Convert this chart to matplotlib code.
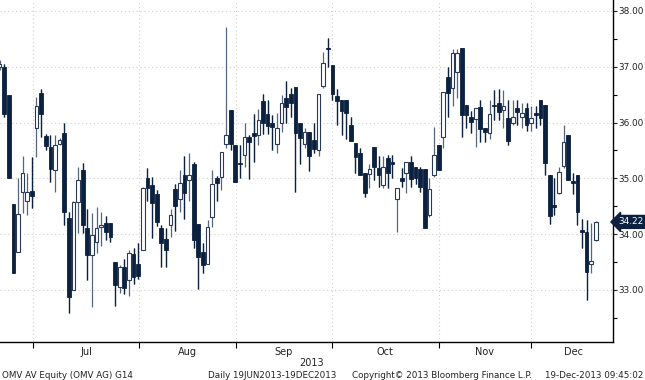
import matplotlib
matplotlib.use("Agg")
import matplotlib.pyplot as plt
import matplotlib.transforms as mtransforms
import numpy as np

# ---- data (OHLC, daily, 19 Jun 2013 - 19 Dec 2013) ----
opens = [37.00, 37.00, 36.50, 34.55, 33.68, 34.76, 34.60, 34.77, 35.90, 36.53,
         35.76, 35.56, 35.15, 35.62, 35.81, 34.29, 33.00, 34.58, 35.15, 34.11,
         33.63, 33.86, 34.13, 34.20, 34.20, 33.50, 33.05, 33.41, 33.18, 33.64,
         33.47, 33.72, 35.00, 34.88, 34.72, 34.11, 33.92, 34.16, 34.81, 34.63,
         35.06, 34.97, 35.26, 34.18, 33.68, 33.47, 34.31, 35.00, 35.02, 35.62,
         36.23, 35.60, 35.27, 35.42, 35.74, 35.81, 35.78, 36.39, 36.15, 36.00,
         35.62, 36.00, 36.44, 36.51, 36.64, 35.99, 35.62, 35.83, 35.69, 35.51,
         36.66, 37.33, 37.03, 36.48, 36.40, 36.40, 35.96, 35.63, 35.46, 35.10,
         35.08, 35.56, 35.19, 34.88, 35.37, 35.30, 34.63, 35.00, 35.10, 35.29,
         35.20, 35.17, 35.17, 34.34, 35.06, 35.60, 35.74, 36.82, 36.62, 36.90,
         37.34, 36.32, 36.10, 36.07, 36.28, 35.90, 35.81, 36.31, 36.35, 36.23,
         36.08, 35.99, 36.26, 36.10, 36.26, 36.00, 36.16, 36.40, 36.31, 35.06,
         34.51, 34.74, 35.22, 35.78, 34.95, 35.06, 34.06, 34.04, 33.47, 33.90]
highs = [37.12, 37.05, 36.50, 34.55, 35.00, 35.40, 35.10, 35.38, 36.45, 36.60,
         35.80, 35.78, 35.78, 35.72, 36.00, 34.40, 34.60, 35.20, 35.27, 34.45,
         34.38, 34.49, 34.40, 34.33, 34.20, 33.50, 33.45, 33.55, 33.72, 33.76,
         33.85, 34.85, 35.18, 35.02, 34.80, 34.16, 34.11, 34.45, 34.90, 35.15,
         35.40, 35.45, 35.30, 34.18, 33.85, 34.25, 35.15, 35.05, 35.47, 37.71,
         36.23, 35.60, 35.60, 36.00, 35.78, 36.15, 36.24, 36.52, 36.40, 36.14,
         36.17, 36.50, 36.75, 36.62, 36.64, 35.99, 35.90, 35.83, 36.00, 36.51,
         37.27, 37.52, 37.03, 36.60, 36.40, 36.40, 36.10, 35.63, 35.55, 35.10,
         35.25, 35.56, 35.40, 35.40, 35.42, 35.42, 34.83, 35.18, 35.29, 35.40,
         35.20, 35.20, 35.17, 35.00, 35.92, 35.60, 36.55, 37.00, 37.32, 37.32,
         37.34, 36.32, 36.20, 36.26, 36.40, 35.90, 36.40, 36.58, 36.60, 36.58,
         36.40, 36.40, 36.40, 36.35, 36.35, 36.30, 36.30, 36.40, 36.31, 35.06,
         35.00, 35.20, 35.96, 35.78, 35.10, 35.06, 34.27, 34.25, 34.20, 34.24]
lows = [36.95, 36.10, 35.00, 33.30, 33.68, 34.38, 34.35, 34.47, 35.38, 35.74,
        35.50, 34.94, 34.76, 35.60, 34.17, 32.59, 33.00, 34.02, 34.02, 33.18,
        32.70, 33.66, 33.79, 33.90, 33.86, 32.71, 32.95, 32.92, 32.90, 33.10,
        33.20, 33.72, 34.60, 33.93, 34.15, 33.41, 33.41, 33.95, 34.05, 34.40,
        34.27, 34.60, 33.75, 33.02, 33.30, 33.47, 34.12, 34.60, 34.80, 35.55,
        35.50, 34.94, 35.00, 35.20, 34.99, 35.30, 35.60, 35.80, 35.80, 35.51,
        35.46, 35.83, 35.99, 36.10, 34.76, 35.26, 35.55, 35.13, 35.45, 35.40,
        36.62, 37.00, 36.40, 35.96, 35.78, 35.70, 35.67, 35.10, 35.06, 34.67,
        34.83, 34.98, 34.85, 34.82, 34.82, 35.00, 34.04, 34.85, 34.73, 34.85,
        34.90, 34.75, 34.11, 34.30, 35.03, 35.15, 35.55, 36.10, 36.30, 36.44,
        35.74, 35.90, 35.82, 35.56, 35.65, 35.65, 35.70, 36.05, 36.05, 35.90,
        35.60, 35.95, 35.95, 35.90, 35.85, 35.85, 35.90, 35.95, 35.06, 34.18,
        34.35, 34.72, 35.18, 34.97, 34.72, 34.17, 33.75, 32.82, 33.30, 33.88]
closes = [37.05, 36.15, 35.00, 33.30, 34.36, 35.10, 34.76, 34.68, 36.30, 36.15,
          35.58, 35.17, 35.60, 35.69, 34.40, 32.87, 34.58, 34.97, 34.16, 33.63,
          33.99, 34.11, 34.16, 34.04, 33.95, 33.09, 33.41, 33.03, 33.66, 33.23,
          33.25, 34.83, 34.83, 34.56, 34.22, 33.84, 33.72, 34.34, 34.50, 34.92,
          34.74, 35.06, 33.90, 33.59, 33.45, 34.13, 34.90, 34.92, 35.47, 35.78,
          35.62, 34.94, 35.25, 35.74, 35.65, 35.76, 36.05, 35.99, 35.94, 35.92,
          35.90, 36.35, 36.28, 36.35, 35.81, 35.72, 35.83, 35.40, 35.53, 36.51,
          37.07, 37.31, 36.51, 36.39, 36.20, 36.18, 35.67, 35.38, 35.06, 34.74,
          35.17, 35.20, 35.06, 35.20, 35.10, 35.26, 34.83, 34.95, 35.29, 34.99,
          35.00, 34.85, 34.11, 34.81, 35.42, 35.15, 36.55, 36.53, 37.25, 37.25,
          36.14, 36.14, 36.01, 36.26, 35.89, 35.83, 36.16, 36.29, 36.19, 36.30,
          35.67, 36.10, 36.19, 36.17, 35.96, 36.08, 36.14, 36.08, 35.28, 34.33,
          34.49, 35.12, 35.65, 34.97, 34.92, 34.40, 34.04, 33.32, 33.52, 34.22]

month_labels = ["Jul", "Aug", "Sep", "Oct", "Nov", "Dec"]
year_label = "2013"
y_ticks = [33.0, 34.0, 35.0, 36.0, 37.0, 38.0]
last_price = closes[-1]

# ---- layout ----
W, H = 645, 380
fig = plt.figure(figsize=(W / 100, H / 100), dpi=100)
ax = fig.add_axes([0.0, 1 - 342 / H, 613 / W, 342 / H])

dark = "#0c2140"
wick_c = "#56667c"
x = np.arange(len(opens))
o = np.array(opens); c = np.array(closes); h = np.array(highs); l = np.array(lows)
up = c >= o

# month separators (in candle-index units)
month_edges = [7.25, 30.2, 51.15, 71.9, 95.0, 114.9]
xmax = 132.7

# grid
grid_c = "#d0d0d0"
for yv in y_ticks:
    ax.axhline(yv, color=grid_c, lw=0.8, ls=(0, (1, 2.5)), zorder=0)
for xv in month_edges:
    ax.axvline(xv, color=grid_c, lw=0.8, ls=(0, (1, 2.5)), zorder=0)

# wicks
ax.vlines(x, l, h, color=wick_c, lw=0.9, zorder=1)
ax.vlines(x[~up], l[~up], h[~up], color=dark, lw=0.9, zorder=1)

# bodies
bw = 0.8
bottoms = np.minimum(o, c)
heights = np.maximum(np.abs(c - o), 0.03)
ax.bar(x[~up], heights[~up], bottom=bottoms[~up], width=bw, color=dark,
       edgecolor=dark, lw=0.6, zorder=2)
ax.bar(x[up], heights[up], bottom=bottoms[up], width=bw, color="white",
       edgecolor="#2a3a55", lw=0.8, zorder=2)

ax.set_xlim(0.108, xmax)
ax.set_ylim(32.068, 38.197)

# spines
for s in ["left", "top"]:
    ax.spines[s].set_visible(False)
ax.spines["right"].set_linewidth(1.0)
ax.spines["bottom"].set_linewidth(1.0)

# y axis on the right
ax.yaxis.tick_right()
ax.set_yticks(y_ticks)
ax.set_yticklabels([f"{v:.2f}" for v in y_ticks])
ax.set_yticks(np.arange(32.5, 38.2, 1.0), minor=True)
ax.tick_params(axis="y", which="major", direction="out", length=3, width=0.8,
               pad=1.0, labelsize=6.4, colors="#222222")
ax.tick_params(axis="y", which="minor", direction="out", length=3, width=0.8)

# x axis month ticks
ax.set_xticks(month_edges)
ax.set_xticklabels([])
ax.tick_params(axis="x", which="major", direction="out", length=4, width=0.8)
centers = [(month_edges[i] + month_edges[i + 1]) / 2 for i in range(len(month_edges) - 1)]
centers.append(month_edges[-1] + 9.2)
tr = mtransforms.blended_transform_factory(ax.transData, fig.transFigure)
for cx, lab in zip(centers, month_labels):
    fig.text(cx, 1 - 352 / H, lab, transform=tr, ha="center", va="center",
             fontsize=7, color="#222222")
fig.text(312 / W, 1 - 363 / H, year_label, ha="center", va="center",
         fontsize=7, color="#222222")

# last price label
ytr = mtransforms.blended_transform_factory(fig.transFigure, ax.transData)
ax.text(630.5 / W, last_price, f"{last_price:.2f}", transform=ytr, ha="center",
        va="center", fontsize=6.4, color="white", zorder=10,
        bbox=dict(boxstyle="larrow,pad=0.22", fc=dark, ec=dark), clip_on=False)

# footer
fy = 1 - 375 / H
fs = 6.3
fig.text(2 / W, fy, "OMV AV Equity (OMV AG) G14", ha="left", va="center", fontsize=fs, color="#222222")
fig.text(208 / W, fy, "Daily 19JUN2013-19DEC2013", ha="left", va="center", fontsize=fs, color="#222222")
fig.text(352 / W, fy, "Copyright\u00a9 2013 Bloomberg Finance L.P.", ha="left", va="center", fontsize=fs, color="#222222")
fig.text(643 / W, fy, "19-Dec-2013 09:45:02", ha="right", va="center", fontsize=fs, color="#222222")

fig.savefig("out.png", dpi=100)
